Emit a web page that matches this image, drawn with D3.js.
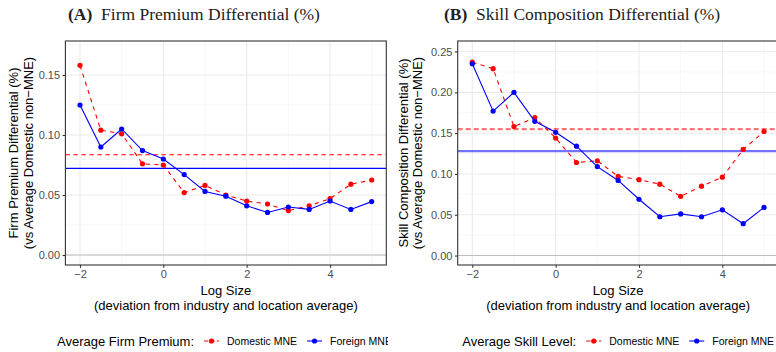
<!DOCTYPE html>
<html>
<head>
<meta charset="utf-8">
<script src="https://cdn.jsdelivr.net/npm/d3@7"></script>
<style>
  html, body { margin: 0; padding: 0; background: #fff; }
  svg { display: block; }
</style>
</head>
<body>
<div id="chart"></div>
<script>
// ---------------- DATA ----------------
const logSize = [-2, -1.5, -1, -0.5, 0, 0.5, 1, 1.5, 2, 2.5, 3, 3.5, 4, 4.5, 5];

const premiumDomestic = [0.158, 0.104, 0.101, 0.076, 0.075, 0.052, 0.058, 0.050, 0.045, 0.0425, 0.037, 0.041, 0.047, 0.059, 0.0625];
const premiumForeign  = [0.125, 0.090, 0.105, 0.087, 0.080, 0.067, 0.053, 0.049, 0.041, 0.0355, 0.040, 0.038, 0.045, 0.038, 0.0445];
const premiumAverages = [0.0836, 0.0722]; // Domestic MNE, Foreign MNE

const skillDomestic = [0.237, 0.229, 0.158, 0.169, 0.144, 0.114, 0.116, 0.097, 0.093, 0.0875, 0.0725, 0.085, 0.096, 0.130, 0.152];
const skillForeign  = [0.235, 0.177, 0.200, 0.1645, 0.151, 0.134, 0.109, 0.092, 0.069, 0.0475, 0.051, 0.0475, 0.056, 0.039, 0.059];
const skillAverages = [0.155, 0.128];

const seriesNames = ["Domestic MNE", "Foreign MNE"];
const xTicks = [-2, 0, 2, 4];
const xMinorTicks = [-1, 1, 3, 5];
const premiumYTicks = [0, 0.05, 0.10, 0.15];
const premiumYMinor = [0.025, 0.075, 0.125, 0.175];
const skillYTicks = [0, 0.05, 0.10, 0.15, 0.20, 0.25];
const skillYMinor = [0.025, 0.075, 0.125, 0.175, 0.225];

const panelTitles = [["(A)", "Firm Premium Differential (%)"], ["(B)", "Skill Composition Differential (%)"]];
const yTitles = [
  ["Firm Premium Differential (%)", "(vs Average Domestic non−MNE)"],
  ["Skill Composition Differential (%)", "(vs Average Domestic non−MNE)"]
];
const xTitle = ["Log Size", "(deviation from industry and location average)"];
const legendTitles = ["Average Firm Premium:", "Average Skill Level:"];

// ---------------- LAYOUT ----------------
const W = 776, H = 352;
const svg = d3.select("#chart").append("svg").attr("width", W).attr("height", H)
  .style("font-family", "'Liberation Sans', Arial, sans-serif");
svg.append("rect").attr("width", W).attr("height", H).attr("fill", "#fff");

const defs = svg.append("defs");
defs.append("clipPath").attr("id", "clipA").append("rect").attr("x", 0).attr("y", 0).attr("width", 388).attr("height", H);
defs.append("clipPath").attr("id", "clipB").append("rect").attr("x", 388).attr("y", 0).attr("width", 388).attr("height", H);

const colors = ["#FF0000", "#0000FF"];
const fmt = d => (d < 0 ? "−" : "") + Math.abs(d);

const panels = [
  {
    clip: "clipA", offset: 0, left: 65.4, right: 386.3, top: 41, bottom: 265,
    yDomain: [-0.0083, 0.1783], yTicks: premiumYTicks, yMinor: premiumYMinor,
    series: [premiumDomestic, premiumForeign], avgs: premiumAverages,
    title: panelTitles[0], yTitle: yTitles[0], legendTitle: legendTitles[0],
    yTitleX: [13.5, 28], avgStyle: "thin", legendX: 57
  },
  {
    clip: "clipB", offset: 388, left: 457.7, right: 778.6, top: 41, bottom: 265,
    yDomain: [-0.0116, 0.2629], yTicks: skillYTicks, yMinor: skillYMinor,
    series: [skillDomestic, skillForeign], avgs: skillAverages,
    title: panelTitles[1], yTitle: yTitles[1], legendTitle: legendTitles[1],
    yTitleX: [403.5, 417], avgStyle: "thick", legendX: 462.3
  }
];

panels.forEach(p => {
  const g = svg.append("g").attr("clip-path", `url(#${p.clip})`);
  const x = d3.scaleLinear().domain([-2.35, 5.35]).range([p.left, p.right]);
  const y = d3.scaleLinear().domain(p.yDomain).range([p.bottom, p.top]);

  const pg = g.append("g");
  const plotClipId = p.clip + "_plot";
  defs.append("clipPath").attr("id", plotClipId).append("rect")
    .attr("x", p.left).attr("y", p.top).attr("width", p.right - p.left).attr("height", p.bottom - p.top);
  const inner = pg.append("g").attr("clip-path", `url(#${plotClipId})`);

  // minor grid
  inner.selectAll(".ymin").data(p.yMinor).join("line")
    .attr("x1", p.left).attr("x2", p.right).attr("y1", d => y(d)).attr("y2", d => y(d))
    .attr("stroke", "#F2F2F2").attr("stroke-width", 0.6);
  inner.selectAll(".xmin").data(xMinorTicks).join("line")
    .attr("y1", p.top).attr("y2", p.bottom).attr("x1", d => x(d)).attr("x2", d => x(d))
    .attr("stroke", "#F2F2F2").attr("stroke-width", 0.6);
  // major grid
  inner.selectAll(".ymaj").data(p.yTicks).join("line")
    .attr("x1", p.left).attr("x2", p.right).attr("y1", d => y(d)).attr("y2", d => y(d))
    .attr("stroke", "#EBEBEB").attr("stroke-width", 1.1);
  inner.selectAll(".xmaj").data(xTicks).join("line")
    .attr("y1", p.top).attr("y2", p.bottom).attr("x1", d => x(d)).attr("x2", d => x(d))
    .attr("stroke", "#EBEBEB").attr("stroke-width", 1.1);

  // zero line
  inner.append("line").attr("x1", p.left).attr("x2", p.right).attr("y1", y(0)).attr("y2", y(0))
    .attr("stroke", "#BEBEBE").attr("stroke-width", 1.1);

  // average lines
  p.avgs.forEach((v, i) => {
    const l = inner.append("line").attr("x1", p.left).attr("x2", p.right).attr("y1", y(v)).attr("y2", y(v));
    if (p.avgStyle === "thin") {
      l.attr("stroke", colors[i]).attr("stroke-width", 1.1);
      if (i === 0) l.attr("stroke-dasharray", "4.5,3.5");
    } else {
      l.attr("stroke", colors[i]).attr("stroke-width", 2.2).attr("stroke-opacity", 0.55);
      if (i === 0) l.attr("stroke-dasharray", "5,3");
    }
  });

  // series lines & points
  p.series.forEach((vals, i) => {
    const pts = logSize.map((lx, k) => [lx, vals[k]]);
    const line = d3.line().x(d => x(d[0])).y(d => y(d[1]));
    inner.append("path").attr("d", line(pts)).attr("fill", "none")
      .attr("stroke", colors[i]).attr("stroke-width", 1.1)
      .attr("stroke-dasharray", i === 0 ? "4.3,4.3" : null);
    inner.selectAll(null).data(pts).join("circle")
      .attr("cx", d => x(d[0])).attr("cy", d => y(d[1])).attr("r", 2.6)
      .attr("fill", colors[i]);
  });

  // border
  pg.append("rect").attr("x", p.left).attr("y", p.top).attr("width", p.right - p.left).attr("height", p.bottom - p.top)
    .attr("fill", "none").attr("stroke", "#333333").attr("stroke-width", 1.1);

  // axes
  const yAxis = d3.axisLeft(y).tickValues(p.yTicks).tickFormat(d3.format(".2f")).tickSize(2.8).tickPadding(2.5);
  const ya = pg.append("g").attr("transform", `translate(${p.left},0)`).call(yAxis);
  const xAxis = d3.axisBottom(x).tickValues(xTicks).tickFormat(fmt).tickSize(2.8).tickPadding(2.5);
  const xa = pg.append("g").attr("transform", `translate(0,${p.bottom})`).call(xAxis);
  [ya, xa].forEach(a => {
    a.select(".domain").remove();
    a.selectAll(".tick line").attr("stroke", "#333333").attr("stroke-width", 1.1);
    a.selectAll(".tick text").attr("fill", "#4D4D4D").style("font-size", "11px")
      .style("font-family", "'Liberation Sans', Arial, sans-serif");
  });

  // panel title (centered on sub-plot)
  const cx = p.offset + 194;
  const t = g.append("text").attr("x", cx).attr("y", 20).attr("text-anchor", "middle")
    .style("font-family", "'Liberation Serif', 'Times New Roman', serif").style("font-size", "17.5px").attr("fill", "#222");
  t.append("tspan").attr("font-weight", "bold").text(p.title[0]);
  t.append("tspan").text("\u2002" + p.title[1]);

  // y title
  const ymid = (p.top + p.bottom) / 2;
  p.yTitle.forEach((s, k) => {
    g.append("text").attr("transform", `translate(${p.yTitleX[k] + 4.5},${ymid}) rotate(-90)`)
      .attr("text-anchor", "middle").style("font-size", "13px").attr("fill", "#000").text(s);
  });

  // x title
  const xmid = (p.left + Math.min(p.right, p.offset + 388)) / 2;
  const xmidA = (p.left + p.right) / 2;
  xTitle.forEach((s, k) => {
    g.append("text").attr("x", xmidA).attr("y", 295 + k * 15).attr("text-anchor", "middle")
      .style("font-size", "13px").attr("fill", "#000").text(s);
  });

  // legend
  const ly = 341;
  const lt = g.append("text").attr("x", p.legendX).attr("y", ly + 4.5).style("font-size", "13px").attr("fill", "#000").text(p.legendTitle);
  let lx = p.legendX + lt.node().getComputedTextLength() + 10;
  seriesNames.forEach((nm, i) => {
    g.append("line").attr("x1", lx).attr("x2", lx + 15).attr("y1", ly).attr("y2", ly)
      .attr("stroke", colors[i]).attr("stroke-width", 1.1).attr("stroke-dasharray", i === 0 ? "4.3,2.1" : null);
    g.append("circle").attr("cx", lx + 7.5).attr("cy", ly).attr("r", 2.6).attr("fill", colors[i]);
    const tt = g.append("text").attr("x", lx + 23).attr("y", ly + 3.8).style("font-size", "10.5px").attr("fill", "#000").text(nm);
    lx = lx + 23 + tt.node().getComputedTextLength() + 10;
  });
});
</script>
</body>
</html>
